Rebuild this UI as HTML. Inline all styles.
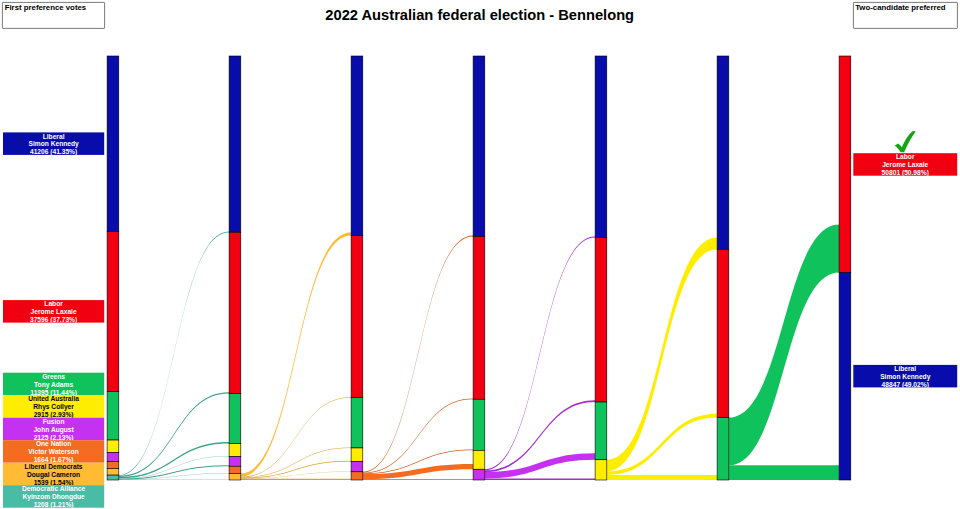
<!DOCTYPE html>
<html><head><meta charset="utf-8"><title>2022 Australian federal election - Bennelong</title>
<style>
html,body{margin:0;padding:0;background:#fff;}
svg{display:block}
text{font-family:"Liberation Sans",Arial,Helvetica,sans-serif;font-weight:bold;}
.lt text{font-size:6.65px;text-anchor:middle;}
.hd{font-size:7.8px;}
.ti{font-size:14.7px;text-anchor:middle;}
.bars rect{stroke:#000;stroke-width:0.6;}
</style></head><body>
<svg width="960" height="509" viewBox="0 0 960 509">
<defs><clipPath id="l0"><rect x="3.0" y="132.4" width="101.2" height="22.5"/></clipPath><clipPath id="l1"><rect x="3.0" y="300.1" width="101.2" height="22.5"/></clipPath><clipPath id="l2"><rect x="3.0" y="372.7" width="101.2" height="22.5"/></clipPath><clipPath id="l3"><rect x="3.0" y="395.2" width="101.2" height="22.5"/></clipPath><clipPath id="l4"><rect x="3.0" y="417.7" width="101.2" height="22.5"/></clipPath><clipPath id="l5"><rect x="3.0" y="440.2" width="101.2" height="22.5"/></clipPath><clipPath id="l6"><rect x="3.0" y="462.7" width="101.2" height="22.5"/></clipPath><clipPath id="l7"><rect x="3.0" y="485.2" width="101.2" height="22.5"/></clipPath><clipPath id="r0"><rect x="853.3" y="153.2" width="103.9" height="22.5"/></clipPath><clipPath id="r1"><rect x="853.3" y="364.9" width="103.9" height="22.5"/></clipPath></defs>
<rect width="960" height="509" fill="#fff"/>
<text class="ti" x="479.7" y="20.2">2022 Australian federal election - Bennelong</text>
<rect x="2.4" y="2.4" width="102.2" height="26" rx="0.6" fill="#fff" stroke="#333" stroke-width="0.65"/>
<text class="hd" x="4.7" y="9.6">First preference votes</text>
<rect x="853.4" y="2.4" width="104" height="26" rx="0.6" fill="#fff" stroke="#333" stroke-width="0.65"/>
<text class="hd" x="855.2" y="9.6">Two-candidate preferred</text>
<g class="flows">
<path d="M118.80 475.12C173.95 475.12 173.95 231.55 229.10 231.55L229.10 232.25C173.95 232.25 173.95 475.78 118.80 475.78Z" fill="#3da18d"/>
<path d="M118.80 475.78C173.95 475.78 173.95 392.25 229.10 392.25L229.10 393.60C173.95 393.60 173.95 477.07 118.80 477.07Z" fill="#3da18d"/>
<path d="M118.80 477.07C173.95 477.07 173.95 442.10 229.10 442.10L229.10 443.60C173.95 443.60 173.95 478.49 118.80 478.49Z" fill="#3da18d"/>
<path d="M118.80 478.49C173.95 478.49 173.95 456.00 229.10 456.00L229.10 456.30C173.95 456.30 173.95 478.78 118.80 478.78Z" fill="#3da18d"/>
<path d="M118.80 478.78C173.95 478.78 173.95 465.34 229.10 465.34L229.10 466.24C173.95 466.24 173.95 479.63 118.80 479.63Z" fill="#3da18d"/>
<path d="M118.80 479.63C173.95 479.63 173.95 473.32 229.10 473.32L229.10 473.41C173.95 473.41 173.95 479.72 118.80 479.72Z" fill="#3da18d"/>
<path d="M118.80 479.72C173.95 479.72 173.95 479.70 229.10 479.70L229.10 480.00C173.95 480.00 173.95 480.00 118.80 480.00Z" fill="#3da18d"/>
<path d="M240.80 473.41C295.95 473.41 295.95 232.25 351.10 232.25L351.10 235.55C295.95 235.55 295.95 476.58 240.80 476.58Z" fill="#FFBB33"/>
<path d="M240.80 476.58C295.95 476.58 295.95 396.90 351.10 396.90L351.10 397.60C295.95 397.60 295.95 477.26 240.80 477.26Z" fill="#dba02b"/>
<path d="M240.80 477.26C295.95 477.26 295.95 447.60 351.10 447.60L351.10 447.95C295.95 447.95 295.95 477.59 240.80 477.59Z" fill="#dba02b"/>
<path d="M240.80 477.59C295.95 477.59 295.95 460.65 351.10 460.65L351.10 461.55C295.95 461.55 295.95 478.46 240.80 478.46Z" fill="#dba02b"/>
<path d="M240.80 478.46C295.95 478.46 295.95 471.49 351.10 471.49L351.10 471.79C295.95 471.79 295.95 478.75 240.80 478.75Z" fill="#dba02b"/>
<path d="M240.80 478.75C295.95 478.75 295.95 478.70 351.10 478.70L351.10 480.00C295.95 480.00 295.95 480.00 240.80 480.00Z" fill="#dba02b"/>
<path d="M362.80 471.79C417.95 471.79 417.95 235.55 473.10 235.55L473.10 236.45C417.95 236.45 417.95 472.66 362.80 472.66Z" fill="#d05c1c"/>
<path d="M362.80 472.66C417.95 472.66 417.95 398.50 473.10 398.50L473.10 399.25C417.95 399.25 417.95 473.39 362.80 473.39Z" fill="#d05c1c"/>
<path d="M362.80 473.39C417.95 473.39 417.95 449.60 473.10 449.60L473.10 450.35C417.95 450.35 417.95 474.12 362.80 474.12Z" fill="#d05c1c"/>
<path d="M362.80 474.12C417.95 474.12 417.95 463.95 473.10 463.95L473.10 469.25C417.95 469.25 417.95 479.25 362.80 479.25Z" fill="#F36C21"/>
<path d="M362.80 479.25C417.95 479.25 417.95 479.23 473.10 479.23L473.10 480.00C417.95 480.00 417.95 480.00 362.80 480.00Z" fill="#d05c1c"/>
<path d="M484.80 469.25C539.95 469.25 539.95 236.45 595.10 236.45L595.10 237.55C539.95 237.55 539.95 470.32 484.80 470.32Z" fill="#a92ace"/>
<path d="M484.80 470.32C539.95 470.32 539.95 400.35 595.10 400.35L595.10 402.05C539.95 402.05 539.95 471.98 484.80 471.98Z" fill="#a92ace"/>
<path d="M484.80 471.98C539.95 471.98 539.95 453.15 595.10 453.15L595.10 459.75C539.95 459.75 539.95 478.43 484.80 478.43Z" fill="#C531F0"/>
<path d="M484.80 478.43C539.95 478.43 539.95 478.39 595.10 478.39L595.10 480.00C539.95 480.00 539.95 480.00 484.80 480.00Z" fill="#a92ace"/>
<path d="M606.80 459.75C661.95 459.75 661.95 237.55 717.10 237.55L717.10 249.36C661.95 249.36 661.95 471.41 606.80 471.41Z" fill="#FFED00"/>
<path d="M606.80 471.41C661.95 471.41 661.95 413.86 717.10 413.86L717.10 417.56C661.95 417.56 661.95 475.06 606.80 475.06Z" fill="#FFED00"/>
<path d="M606.80 475.06C661.95 475.06 661.95 475.00 717.10 475.00L717.10 480.00C661.95 480.00 661.95 480.00 606.80 480.00Z" fill="#FFED00"/>
<path d="M728.80 417.56C783.95 417.56 783.95 224.45 839.10 224.45L839.10 272.45C783.95 272.45 783.95 465.36 728.80 465.36Z" fill="#10C25B"/>
<path d="M728.80 465.36C783.95 465.36 783.95 465.31 839.10 465.31L839.10 480.00C783.95 480.00 783.95 480.00 728.80 480.00Z" fill="#10C25B"/>
</g>
<g class="bars">
<rect x="107.10" y="56.00" width="11.7" height="175.55" fill="#080CAB"/>
<rect x="107.10" y="231.55" width="11.7" height="160.00" fill="#F00011"/>
<rect x="107.10" y="391.55" width="11.7" height="48.50" fill="#10C25B"/>
<rect x="107.10" y="440.05" width="11.7" height="12.40" fill="#FFED00"/>
<rect x="107.10" y="452.45" width="11.7" height="9.04" fill="#C531F0"/>
<rect x="107.10" y="461.49" width="11.7" height="7.08" fill="#F36C21"/>
<rect x="107.10" y="468.57" width="11.7" height="6.55" fill="#FFBB33"/>
<rect x="107.10" y="475.12" width="11.7" height="4.88" fill="#48BCA4"/>
<rect x="229.10" y="56.00" width="11.7" height="176.25" fill="#080CAB"/>
<rect x="229.10" y="232.25" width="11.7" height="161.35" fill="#F00011"/>
<rect x="229.10" y="393.60" width="11.7" height="50.00" fill="#10C25B"/>
<rect x="229.10" y="443.60" width="11.7" height="12.70" fill="#FFED00"/>
<rect x="229.10" y="456.30" width="11.7" height="9.94" fill="#C531F0"/>
<rect x="229.10" y="466.24" width="11.7" height="7.17" fill="#F36C21"/>
<rect x="229.10" y="473.41" width="11.7" height="6.59" fill="#FFBB33"/>
<rect x="351.10" y="56.00" width="11.7" height="179.55" fill="#080CAB"/>
<rect x="351.10" y="235.55" width="11.7" height="162.05" fill="#F00011"/>
<rect x="351.10" y="397.60" width="11.7" height="50.35" fill="#10C25B"/>
<rect x="351.10" y="447.95" width="11.7" height="13.60" fill="#FFED00"/>
<rect x="351.10" y="461.55" width="11.7" height="10.24" fill="#C531F0"/>
<rect x="351.10" y="471.79" width="11.7" height="8.21" fill="#F36C21"/>
<rect x="473.10" y="56.00" width="11.7" height="180.45" fill="#080CAB"/>
<rect x="473.10" y="236.45" width="11.7" height="162.80" fill="#F00011"/>
<rect x="473.10" y="399.25" width="11.7" height="51.10" fill="#10C25B"/>
<rect x="473.10" y="450.35" width="11.7" height="18.90" fill="#FFED00"/>
<rect x="473.10" y="469.25" width="11.7" height="10.75" fill="#C531F0"/>
<rect x="595.10" y="56.00" width="11.7" height="181.55" fill="#080CAB"/>
<rect x="595.10" y="237.55" width="11.7" height="164.50" fill="#F00011"/>
<rect x="595.10" y="402.05" width="11.7" height="57.70" fill="#10C25B"/>
<rect x="595.10" y="459.75" width="11.7" height="20.25" fill="#FFED00"/>
<rect x="717.10" y="56.00" width="11.7" height="193.36" fill="#080CAB"/>
<rect x="717.10" y="249.36" width="11.7" height="168.20" fill="#F00011"/>
<rect x="717.10" y="417.56" width="11.7" height="62.44" fill="#10C25B"/>
<rect x="839.10" y="56.00" width="11.7" height="216.45" fill="#F00011"/>
<rect x="839.10" y="272.45" width="11.7" height="207.55" fill="#080CAB"/>
</g>
<g class="labels">
<rect x="3.0" y="132.4" width="101.2" height="22.5" fill="#080CAB"/>
<g clip-path="url(#l0)" fill="#fff" class="lt"><text x="53.60" y="138.50">Liberal</text><text x="53.60" y="146.45">Simon Kennedy</text><text x="53.60" y="154.40">41206 (41.35%)</text></g>
<rect x="3.0" y="300.1" width="101.2" height="22.5" fill="#F00011"/>
<g clip-path="url(#l1)" fill="#fff" class="lt"><text x="53.60" y="306.20">Labor</text><text x="53.60" y="314.15">Jerome Laxale</text><text x="53.60" y="322.10">37596 (37.73%)</text></g>
<rect x="3.0" y="372.7" width="101.2" height="22.5" fill="#10C25B"/>
<g clip-path="url(#l2)" fill="#fff" class="lt"><text x="53.60" y="378.80">Greens</text><text x="53.60" y="386.75">Tony Adams</text><text x="53.60" y="394.70">11395 (11.44%)</text></g>
<rect x="3.0" y="395.2" width="101.2" height="22.5" fill="#FFED00"/>
<g clip-path="url(#l3)" fill="#000" class="lt"><text x="53.60" y="401.30">United Australia</text><text x="53.60" y="409.25">Rhys Collyer</text><text x="53.60" y="417.20">2915 (2.93%)</text></g>
<rect x="3.0" y="417.7" width="101.2" height="22.5" fill="#C531F0"/>
<g clip-path="url(#l4)" fill="#fff" class="lt"><text x="53.60" y="423.80">Fusion</text><text x="53.60" y="431.75">John August</text><text x="53.60" y="439.70">2125 (2.13%)</text></g>
<rect x="3.0" y="440.2" width="101.2" height="22.5" fill="#F36C21"/>
<g clip-path="url(#l5)" fill="#fff" class="lt"><text x="53.60" y="446.30">One Nation</text><text x="53.60" y="454.25">Victor Waterson</text><text x="53.60" y="462.20">1664 (1.67%)</text></g>
<rect x="3.0" y="462.7" width="101.2" height="22.5" fill="#FFBB33"/>
<g clip-path="url(#l6)" fill="#000" class="lt"><text x="53.60" y="468.80">Liberal Democrats</text><text x="53.60" y="476.75">Dougal Cameron</text><text x="53.60" y="484.70">1539 (1.54%)</text></g>
<rect x="3.0" y="485.2" width="101.2" height="22.5" fill="#48BCA4"/>
<g clip-path="url(#l7)" fill="#fff" class="lt"><text x="53.60" y="491.30">Democratic Alliance</text><text x="53.60" y="499.25">Kyinzom Dhongdue</text><text x="53.60" y="507.20">1208 (1.21%)</text></g>
<rect x="853.3" y="153.2" width="103.9" height="22.5" fill="#F00011"/>
<g clip-path="url(#r0)" fill="#fff" class="lt"><text x="905.25" y="159.30">Labor</text><text x="905.25" y="167.25">Jerome Laxale</text><text x="905.25" y="175.20">50801 (50.98%)</text></g>
<rect x="853.3" y="364.9" width="103.9" height="22.5" fill="#080CAB"/>
<g clip-path="url(#r1)" fill="#fff" class="lt"><text x="905.25" y="371.00">Liberal</text><text x="905.25" y="378.95">Simon Kennedy</text><text x="905.25" y="386.90">48847 (49.02%)</text></g>
</g>
<path d="M894.7 145.8L898 143.4Q900.5 145 901.9 147.2C904.5 140.8 908.5 134.5 912.6 131.3Q914.5 130.6 915.7 131.6C911.5 137 907.5 144.5 904.1 152.3L900.6 152.3C899 149.5 897 147.3 894.7 145.8Z" fill="#14A514"/>
</svg>
</body></html>
